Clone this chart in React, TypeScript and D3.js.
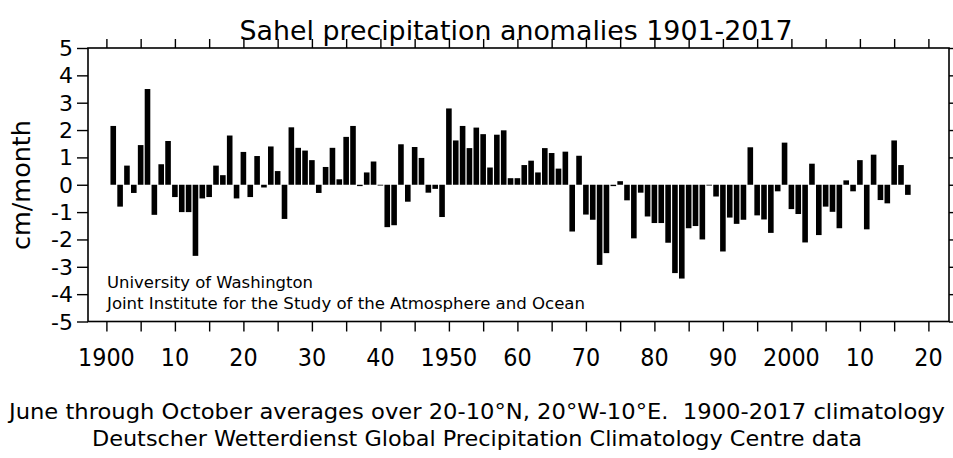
import * as d3 from 'd3';
import { useEffect, useRef } from 'react';

const WIDTH = 953;
const HEIGHT = 458;
const FONT = "'DejaVu Sans', Verdana, sans-serif";

const TITLE = 'Sahel precipitation anomalies 1901-2017';
const Y_LABEL = 'cm/month';
const NOTE_LINES = ['University of Washington', 'Joint Institute for the Study of the Atmosphere and Ocean'];
const FOOTER_LINES = [
    'June through October averages over 20-10°N, 20°W-10°E.  1900-2017 climatology',
    'Deutscher Wetterdienst Global Precipitation Climatology Centre data',
];

const FIRST_YEAR = 1901;
// anomalies (cm/month) for 1901..2017
const anomalies = [
    2.15, -0.8, 0.7, -0.3, 1.45, 3.5, -1.1, 0.75, 1.6, -0.45,
    -1.0, -1.0, -2.6, -0.5, -0.45, 0.7, 0.35, 1.8, -0.5, 1.2,
    -0.45, 1.05, -0.1, 1.4, 0.5, -1.25, 2.1, 1.35, 1.25, 0.9,
    -0.3, 0.65, 1.35, 0.2, 1.75, 2.15, -0.05, 0.45, 0.85, 0.0,
    -1.55, -1.48, 1.48, -0.62, 1.38, 0.98, -0.29, -0.15, -1.18, 2.79,
    1.62, 2.15, 1.34, 2.09, 1.85, 0.63, 1.83, 1.99, 0.24, 0.24,
    0.72, 0.88, 0.45, 1.34, 1.16, 0.59, 1.21, -1.71, 1.06, -1.09,
    -1.28, -2.93, -2.5, -0.05, 0.13, -0.57, -1.96, -0.29, -1.16, -1.4,
    -1.4, -2.12, -3.23, -3.43, -1.59, -1.51, -2.0, 0.0, -0.43, -2.44,
    -1.2, -1.43, -1.28, 1.37, -1.12, -1.27, -1.76, -0.24, 1.54, -0.89,
    -1.07, -2.11, 0.77, -1.84, -0.8, -0.99, -1.59, 0.16, -0.24, 0.9,
    -1.63, 1.1, -0.56, -0.68, 1.62, 0.72, -0.37,
];

const xTickValues = [1900, 1910, 1920, 1930, 1940, 1950, 1960, 1970, 1980, 1990, 2000, 2010, 2020];
const xTickLabels = ['1900', '10', '20', '30', '40', '1950', '60', '70', '80', '90', '2000', '10', '20'];
const yTickValues = [5, 4, 3, 2, 1, 0, -1, -2, -3, -4, -5];

const FRAME = { left: 88, right: 949, top: 48, bottom: 321.5 };

const App = () => {
    const svgRef = useRef<SVGSVGElement>(null);

    useEffect(() => {
        if (!svgRef.current) return;
        const svg = d3.select(svgRef.current);
        svg.selectAll('*').remove();

        const xScale = d3.scaleLinear().domain([1900, 2020]).range([106.4, 928.4]);
        const yScale = d3.scaleLinear().domain([-5, 5]).range([FRAME.bottom, FRAME.top]);
        const barW = 5.6;

        const data = anomalies.map((v, i) => ({ year: FIRST_YEAR + i, value: v }));

        // bars
        svg.append('g')
            .selectAll('rect')
            .data(data)
            .enter()
            .append('rect')
            .attr('x', (d) => xScale(d.year) - barW / 2)
            .attr('y', (d) => Math.min(yScale(d.value), yScale(0)))
            .attr('width', barW)
            .attr('height', (d) => Math.max(Math.abs(yScale(d.value) - yScale(0)), 0.8))
            .attr('fill', '#000');

        // frame
        svg.append('rect')
            .attr('x', FRAME.left)
            .attr('y', FRAME.top)
            .attr('width', FRAME.right - FRAME.left)
            .attr('height', FRAME.bottom - FRAME.top)
            .attr('fill', 'none')
            .attr('stroke', '#000')
            .attr('stroke-width', 1.6);

        // x ticks, every 5 years, top and bottom
        const minorX = d3.range(1900, 2021, 5);
        svg.append('g')
            .attr('transform', `translate(0,${FRAME.bottom})`)
            .call(d3.axisBottom(xScale).tickValues(minorX).tickSize(10).tickFormat(() => ''))
            .call((g) => g.select('.domain').remove())
            .selectAll('line')
            .attr('stroke-width', 1.4);
        svg.append('g')
            .attr('transform', `translate(0,${FRAME.top})`)
            .call(d3.axisTop(xScale).tickValues(minorX).tickSize(9).tickFormat(() => ''))
            .call((g) => g.select('.domain').remove())
            .selectAll('line')
            .attr('stroke-width', 1.4);

        // y ticks left and right
        svg.append('g')
            .attr('transform', `translate(${FRAME.left},0)`)
            .call(d3.axisLeft(yScale).tickValues(yTickValues).tickSize(11).tickFormat(() => ''))
            .call((g) => g.select('.domain').remove())
            .selectAll('line')
            .attr('stroke-width', 1.4);
        svg.append('g')
            .attr('transform', `translate(${FRAME.right},0)`)
            .call(d3.axisRight(yScale).tickValues(yTickValues).tickSize(10).tickFormat(() => ''))
            .call((g) => g.select('.domain').remove())
            .selectAll('line')
            .attr('stroke-width', 1.4);

        // y tick labels
        svg.append('g')
            .selectAll('text')
            .data(yTickValues)
            .enter()
            .append('text')
            .attr('x', 73)
            .attr('y', (d) => yScale(d) + 8)
            .attr('text-anchor', 'end')
            .style('font-family', FONT)
            .style('font-size', '22px')
            .text((d) => String(d));

        // x tick labels
        svg.append('g')
            .selectAll('text')
            .data(xTickValues)
            .enter()
            .append('text')
            .attr('x', (d) => xScale(d))
            .attr('y', 366)
            .attr('text-anchor', 'middle')
            .attr('textLength', (_d, i) => xTickLabels[i].length * 14.2)
            .attr('lengthAdjust', 'spacingAndGlyphs')
            .style('font-family', FONT)
            .style('font-size', '25px')
            .text((_d, i) => xTickLabels[i]);

        // title
        svg.append('text')
            .attr('x', 516)
            .attr('y', 40)
            .attr('text-anchor', 'middle')
            .attr('textLength', 553)
            .attr('lengthAdjust', 'spacingAndGlyphs')
            .style('font-family', FONT)
            .style('font-size', '27px')
            .text(TITLE);

        // y axis label
        svg.append('text')
            .attr('transform', 'translate(30,185) rotate(-90)')
            .attr('text-anchor', 'middle')
            .attr('textLength', 130)
            .attr('lengthAdjust', 'spacingAndGlyphs')
            .style('font-family', FONT)
            .style('font-size', '25px')
            .text(Y_LABEL);

        // institution note
        const noteWidths = [206, 478];
        svg.append('g')
            .selectAll('text')
            .data(NOTE_LINES)
            .enter()
            .append('text')
            .attr('x', 107)
            .attr('y', (_d, i) => 288 + i * 21)
            .attr('textLength', (_d, i) => noteWidths[i])
            .attr('lengthAdjust', 'spacingAndGlyphs')
            .style('font-family', FONT)
            .style('font-size', '16px')
            .text((d) => d);

        // footer
        const footerWidths = [936, 770];
        svg.append('g')
            .selectAll('text')
            .data(FOOTER_LINES)
            .enter()
            .append('text')
            .attr('x', 477)
            .attr('y', (_d, i) => 419 + i * 27)
            .attr('text-anchor', 'middle')
            .attr('textLength', (_d, i) => footerWidths[i])
            .attr('lengthAdjust', 'spacingAndGlyphs')
            .style('font-family', FONT)
            .style('font-size', '21px')
            .style('white-space', 'pre')
            .text((d) => d);
    }, []);

    return (
        <svg
            ref={svgRef}
            width={WIDTH}
            height={HEIGHT}
            style={{ position: 'absolute', left: 0, top: 0, background: '#fff' }}
        ></svg>
    );
};

export default App;
